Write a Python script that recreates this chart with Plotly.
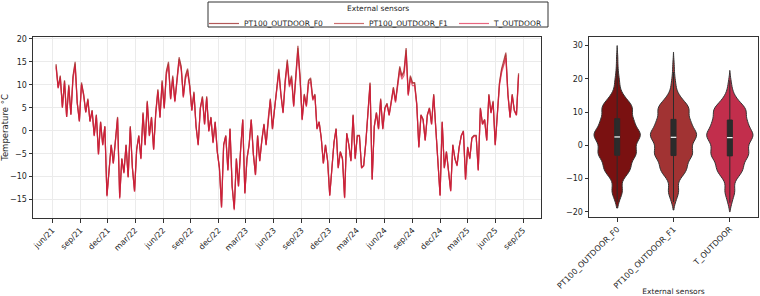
import numpy as np
import pandas as pd
import plotly.graph_objects as go

# ---------------- data ----------------
sensor_names = ["PT100_OUTDOOR_F0", "PT100_OUTDOOR_F1", "T_OUTDOOR"]
series_start = "2021-06-13"   # weekly samples

pt100_f0 = [
    14.5, 9.5, 12, 5, 11, 3, 10, 3.5, 12, 15,
    6, 2, 10.5, 8, 4, 7, 2, 4.5, -1, 3.5,
    -5, 2, -3, 1, -14, -9, -3, -7, -2, 3,
    -14.5, -6, -9, -3, -10, 1, -8, -13, -4, -1,
    -6, 4, -3, 6.5, -1, 3, -4, 4, 9, 3,
    11, 5, 13, 15, 7, 12, 6.5, 12, 16, 14,
    7.5, 12, 13.5, 10, 4.5, 8.5, 1, -3, 5, 7.5,
    1.5, 7.5, 0, 3, -2.5, 2, -4.5, -8, -16.5, -3,
    -1, -8.5, 0.5, -12, -17, -6, -12, -4, 2.5, -13.5,
    -6, -3, 2.5, -5, -9.5, -1, -6.5, -2, 1.5, -3,
    3, 7, 0.5, 5, 10, 13.5, 8, 4, 11, 15.5,
    10, 12, 5.5, 12, 18.5, 12, 2.5, 8, 5.5, 11,
    11.5, 7, 8, 0.5, 2, -1.5, -7, -3, -6.5, -14,
    -8, -2.5, 0.5, -8, -4.5, -6, -14.5, -0.5, -3, -6.5,
    3.5, -6, -1, -1, -8, -7.5, -2.5, 4, 10.5, -10.5,
    1, 4, 0.5, 7, 0.5, 5, 6, 3.5, 7, 9.5,
    6.5, 10, 14, 12, 13, 18, 8, 12, 10.5, 10.5,
    6, -3.5, 3.5, 2.5, -2, 3.5, 5, 1.5, 8, 0.5,
    -6.5, -14, 2, -8, -4.5, -9.5, -13, -3, -6, -7.5,
    -3.5, -1, 0, -10.5, -3.5, -6, -1.5, -1, -1, -8.5,
    5, 1.5, 2.5, -2, 8, 4, 6.5, -3, 3.5, 10.5,
    13.5, 15, 17, 8, 3, 8, 4.5, 3.5, 12.5,
]

pt100_f1 = [
    14.2, 9.3, 11.8, 5.2, 10.8, 3.1, 9.8, 3.6, 11.7, 14.6,
    6.1, 2.2, 10.2, 7.9, 4.1, 6.8, 2.1, 4.4, -1.1, 3.4,
    -5.1, 1.9, -3.1, 0.9, -14.2, -9.1, -3.1, -7.1, -2.1, 2.8,
    -14.6, -6.1, -9.2, -3.1, -10.1, 0.8, -8.1, -13.2, -4.1, -1.1,
    -6.1, 3.8, -3.1, 6.3, -1.1, 2.9, -4.1, 3.9, 8.8, 2.9,
    10.7, 4.9, 12.7, 14.6, 6.9, 11.7, 6.4, 11.7, 15.6, 13.7,
    7.4, 11.7, 13.2, 9.8, 4.4, 8.3, 0.9, -3.1, 4.9, 7.3,
    1.4, 7.3, -0.1, 2.9, -2.6, 1.9, -4.6, -8.1, -16.6, -3.1,
    -1.1, -8.6, 0.4, -12.1, -17.1, -6.1, -12.1, -4.1, 2.4, -13.6,
    -6.1, -3.1, 2.4, -5.1, -9.6, -1.1, -6.6, -2.1, 1.4, -3.1,
    2.9, 6.8, 0.4, 4.9, 9.8, 13.2, 7.8, 3.9, 10.7, 15.1,
    9.8, 11.7, 5.4, 11.7, 18.0, 11.7, 2.4, 7.8, 5.4, 10.7,
    11.2, 6.8, 7.8, 0.4, 1.9, -1.6, -7.1, -3.1, -6.6, -14.1,
    -8.1, -2.6, 0.4, -8.1, -4.6, -6.1, -14.6, -0.6, -3.1, -6.6,
    3.4, -6.1, -1.1, -1.1, -8.1, -7.6, -2.6, 3.9, 10.3, -10.6,
    0.9, 3.9, 0.4, 6.8, 0.4, 4.9, 5.8, 3.4, 6.8, 9.3,
    6.3, 9.8, 13.7, 11.7, 12.7, 17.6, 7.8, 11.7, 10.3, 10.3,
    5.8, -3.6, 3.4, 2.4, -2.1, 3.4, 4.9, 1.4, 7.8, 0.4,
    -6.6, -14.1, 1.9, -8.1, -4.6, -9.6, -13.1, -3.1, -6.1, -7.6,
    -3.6, -1.1, -0.1, -10.6, -3.6, -6.1, -1.6, -1.1, -1.1, -8.6,
    4.9, 1.4, 2.4, -2.1, 7.8, 3.9, 6.3, -3.1, 3.4, 10.3,
    13.2, 14.6, 16.6, 7.8, 2.9, 7.8, 4.4, 3.4, 12.2,
]

t_outdoor = [
    13.8, 9.2, 11.4, 5.0, 10.5, 3.0, 9.5, 3.5, 11.2, 14.0,
    6.0, 2.0, 10.0, 7.6, 4.0, 6.6, 2.0, 4.2, -1.2, 3.2,
    -5.2, 1.8, -3.2, 0.8, -14.3, -9.2, -3.2, -7.2, -2.2, 2.6,
    -14.8, -6.2, -9.3, -3.2, -10.2, 0.6, -8.2, -13.3, -4.2, -1.2,
    -6.2, 3.6, -3.2, 6.0, -1.2, 2.8, -4.2, 3.6, 8.4, 2.8,
    10.2, 4.8, 12.2, 14.0, 6.8, 11.2, 6.2, 11.2, 15.0, 13.2,
    7.2, 11.2, 12.6, 9.5, 4.3, 8.0, 0.8, -3.2, 4.8, 7.0,
    1.3, 7.0, -0.2, 2.8, -2.7, 1.8, -4.7, -8.2, -16.8, -3.2,
    -1.2, -8.7, 0.3, -12.2, -17.3, -6.2, -12.2, -4.2, 2.3, -13.7,
    -6.2, -3.2, 2.3, -5.2, -9.7, -1.2, -6.7, -2.2, 1.3, -3.2,
    2.8, 6.6, 0.3, 4.8, 9.4, 12.6, 7.6, 3.8, 10.2, 14.4,
    9.5, 11.2, 5.2, 11.2, 17.0, 11.2, 2.3, 7.6, 5.2, 10.2,
    10.7, 6.6, 7.6, 0.3, 1.8, -1.7, -7.2, -3.2, -6.7, -14.2,
    -8.2, -2.7, 0.3, -8.2, -4.7, -6.2, -14.7, -0.7, -3.2, -6.7,
    3.2, -6.2, -1.2, -1.2, -8.2, -7.7, -2.7, 3.7, 9.8, -10.7,
    0.8, 3.8, 0.3, 6.6, 0.3, 4.8, 5.6, 3.3, 6.6, 8.9,
    6.1, 9.4, 13.0, 11.2, 12.0, 16.6, 7.6, 11.2, 9.8, 9.8,
    5.6, -3.7, 3.3, 2.3, -2.2, 3.3, 4.8, 1.3, 7.6, 0.3,
    -6.7, -14.2, 1.8, -8.2, -4.7, -9.7, -13.2, -3.2, -6.2, -7.7,
    -3.7, -1.2, -0.2, -10.7, -3.7, -6.2, -1.7, -1.2, -1.2, -8.7,
    4.8, 1.3, 2.3, -2.2, 7.6, 3.8, 6.1, -3.2, 3.3, 9.8,
    12.6, 14.0, 15.8, 7.6, 2.8, 7.6, 4.3, 3.3, 11.8,
]

# hourly extremes visible only in the violin tails
hourly_extremes_f0 = [26.5, 23.5, 21.5, 20.0, 19.5, -15.5]
hourly_extremes_f1 = [24.5, 22.0, 20.0, 19.0, -16.0]
hourly_extremes_t = [19.5, 18.5, -17.0]

# extent of each violin (value range of the drawn density)
violin_low = [-18.9, -19.5, -20.0]
violin_high = [30.0, 28.0, 22.5]

tick_dates = [
    "2021-06-01", "2021-09-01", "2021-12-01", "2022-03-01", "2022-06-01",
    "2022-09-01", "2022-12-01", "2023-03-01", "2023-06-01", "2023-09-01",
    "2023-12-01", "2024-03-01", "2024-06-01", "2024-09-01", "2024-12-01",
    "2025-03-01", "2025-06-01", "2025-09-01",
]
tick_labels = [
    "jun/21", "sep/21", "dec/21", "mar/22", "jun/22", "sep/22", "dec/22",
    "mar/23", "jun/23", "sep/23", "dec/23", "mar/24", "jun/24", "sep/24",
    "dec/24", "mar/25", "jun/25", "sep/25",
]
legend_title = "External sensors"

# ---------------- styling ----------------
W, H = 760, 296
line_colors = ["darkred", "firebrick", "crimson"]
violin_fills = ["#7a1111", "#a13333", "#c22e4c"]
dark = "#333333"
txt = "#1f1f1f"
FONT = "DejaVu Sans"

dates = pd.date_range(series_start, periods=len(pt100_f0), freq="7D")
series = [pt100_f0, pt100_f1, t_outdoor]
extremes = [hourly_extremes_f0, hourly_extremes_f1, hourly_extremes_t]

fig = go.Figure()

for name, vals, col in zip(sensor_names, series, line_colors):
    fig.add_trace(go.Scatter(
        x=dates, y=vals, mode="lines", name=name,
        line=dict(color=col, width=1.2), opacity=0.65,
        xaxis="x", yaxis="y",
    ))

medians = []
for i, (name, vals, ext, fc) in enumerate(zip(sensor_names, series, extremes, violin_fills)):
    sample = list(vals) + list(ext)
    medians.append(float(np.median(sample)))
    fig.add_trace(go.Violin(
        x=[name] * len(sample), y=sample, name=name, showlegend=False,
        xaxis="x2", yaxis="y2",
        fillcolor=fc, line=dict(color=dark, width=1), opacity=1,
        points=False, width=0.82, scalemode="width",
        bandwidth=1.6, spanmode="manual", span=[violin_low[i], violin_high[i]],
        box=dict(visible=True, width=0.11, fillcolor="#2b2b2b",
                 line=dict(color="#2b2b2b", width=1)),
        meanline=dict(visible=False), hoverinfo="skip",
    ))

fig.add_trace(go.Scatter(
    x=sensor_names, y=medians, mode="markers", showlegend=False,
    xaxis="x2", yaxis="y2", hoverinfo="skip",
    marker=dict(symbol="line-ew", size=4, line=dict(color="white", width=1.2)),
))

axis_common = dict(
    showline=True, linecolor=dark, linewidth=1, mirror=True,
    ticks="outside", ticklen=3.5, tickwidth=1, tickcolor=dark,
    tickfont=dict(size=8, color=txt, family=FONT), zeroline=False,
)

# legend box geometry (pixels)
leg_left, leg_right, leg_top, leg_bottom = 208, 548, 2, 27

fig.update_layout(
    width=W, height=H,
    margin=dict(l=0, r=0, t=0, b=0),
    paper_bgcolor="white", plot_bgcolor="white",
    font=dict(family=FONT, size=8, color=txt),
    violinmode="overlay",
    xaxis=dict(
        domain=[33 / W, 541 / W], anchor="y", type="date",
        range=["2021-03-29", "2025-10-30"],
        tickmode="array", tickvals=tick_dates, ticktext=tick_labels,
        tickangle=-45, showgrid=True, gridcolor="#ebebeb", gridwidth=1,
        automargin=False, **axis_common,
    ),
    yaxis=dict(
        domain=[1 - 218 / H, 1 - 37 / H], anchor="x",
        range=[-19, 20.4], tick0=0, dtick=5,
        showgrid=True, gridcolor="#ebebeb", gridwidth=1,
        title=dict(text="Temperature °C", font=dict(size=8.5, color=txt), standoff=0),
        automargin=False, **axis_common,
    ),
    xaxis2=dict(
        domain=[589 / W, 758 / W], anchor="y2", type="category",
        range=[-0.5, 2.5], tickangle=-45, showgrid=False,
        title=dict(text="External sensors", font=dict(size=7.5, color=txt), standoff=0),
        automargin=False, **axis_common,
    ),
    yaxis2=dict(
        domain=[1 - 217 / H, 1 - 37 / H], anchor="x2",
        range=[-21.6, 32.6], tick0=0, dtick=10, showgrid=False,
        automargin=False, **axis_common,
    ),
    legend=dict(
        orientation="h", xref="paper", yref="paper",
        x=(leg_left - 4) / W, y=1 - 9 / H, xanchor="left", yanchor="top",
        borderwidth=0, bgcolor="rgba(0,0,0,0)",
        font=dict(size=7.5, color=txt, family=FONT),
        itemwidth=30, tracegroupgap=0,
        entrywidth=80, entrywidthmode="pixels",
    ),
    shapes=[dict(
        type="rect", xref="paper", yref="paper",
        x0=leg_left / W, x1=leg_right / W, y0=1 - leg_bottom / H, y1=1 - leg_top / H,
        line=dict(color=dark, width=1), fillcolor="rgba(0,0,0,0)", layer="above",
    )],
    annotations=[dict(
        text=legend_title, xref="paper", yref="paper",
        x=(leg_left + leg_right) / 2 / W, y=1 - 8.5 / H, xanchor="center", yanchor="middle",
        showarrow=False, font=dict(size=7.5, color=txt, family=FONT),
    )],
)

fig.write_html("out.html")
